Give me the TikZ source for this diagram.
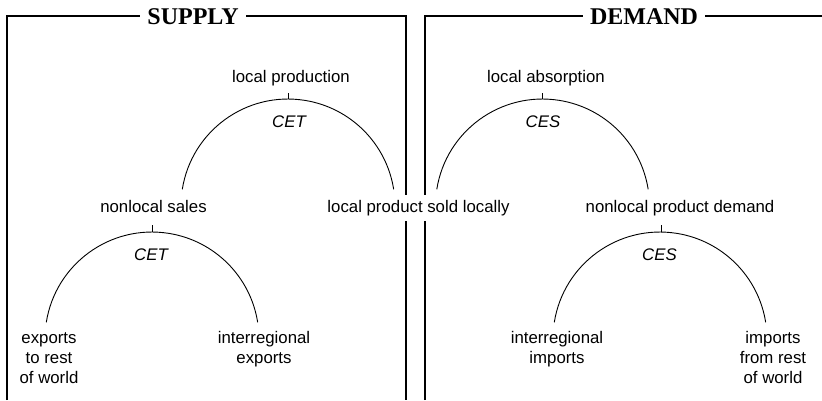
\documentclass[tikz,border=0pt]{standalone}
\usepackage{fontspec}
\setmainfont{Liberation Sans}
\newfontfamily\titlefont{Liberation Serif}
\begin{document}
\begin{tikzpicture}[x=1pt,y=1pt,
  frame/.style={line width=1.2pt},
  branch/.style={line width=0.9pt},
  lbl/.style={font=\fontsize{16.8}{19.8}\selectfont, inner sep=0pt, anchor=base, align=center},
  elas/.style={font=\fontsize{16.8}{19.8}\selectfont\itshape, inner sep=0pt, anchor=base},
  heading/.style={font=\titlefont\bfseries\fontsize{24}{28}\selectfont, fill=white,
                  inner xsep=7pt, inner ysep=2pt, anchor=base}]
\useasboundingbox (0,0) rectangle (822,400);

% panel frames, open at the bottom
\coordinate (sbl) at (7,0);
\coordinate (stl) at (7,384);
\coordinate (str) at (406,384);
\coordinate (sbr) at (406,0);
\coordinate (dbl) at (425,0);
\coordinate (dtl) at (425,384);
\coordinate (dtr) at (822,384);
\draw[frame] (sbl) -- (stl) -- (str) -- (sbr);
\draw[frame] (dbl) -- (dtl) -- (dtr);

% panel headings
\node[heading] (supply) at (193,375) {SUPPLY};
\node[heading] (demand) at (644,375) {DEMAND};

% ---------- supply side ----------
\node[lbl] (prod) at (291,317.5) {local production};
\node[elas] (cet1) at (289,273) {CET};
\coordinate (t1) at (288,301);
\coordinate (a1) at ({288-105.7},{194+16.7});
\draw[branch] (t1) -- ++(0,6);
\draw[branch] (a1) arc[start angle=171, end angle=9, radius=107];

\node[lbl] (nls) at (153.5,187.5) {nonlocal sales};
\node[elas] (cet2) at (151,140) {CET};
\coordinate (t2) at (152,168);
\coordinate (a2) at ({152-105.7},{61+16.7});
\draw[branch] (t2) -- ++(0,7);
\draw[branch] (a2) arc[start angle=171, end angle=9, radius=107];

% multi-line labels: the base anchor sits on the last line
\node[lbl] (exw) at (49,17) {exports\\to rest\\of world};
\node[lbl] (irx) at (264,37) {interregional\\exports};

% ---------- shared node ----------
\node[lbl, fill=white, inner xsep=2pt, inner ysep=5pt] (sold) at (418.5,187.5) {local product sold locally};

% ---------- demand side ----------
\node[lbl] (abs) at (546,317.5) {local absorption};
\node[elas] (ces1) at (543,273) {CES};
\coordinate (t3) at (542.5,301);
\coordinate (a3) at ({542.5-105.7},{194+16.7});
\draw[branch] (t3) -- ++(0,6);
\draw[branch] (a3) arc[start angle=171, end angle=9, radius=107];

\node[lbl] (npd) at (680,187.5) {nonlocal product demand};
\node[elas] (ces2) at (659.5,140) {CES};
\coordinate (t4) at (661,168);
\coordinate (a4) at ({660-105.7},{61+16.7});
\draw[branch] (t4) -- ++(0,7);
\draw[branch] (a4) arc[start angle=171, end angle=9, radius=107];

\node[lbl] (iri) at (557,37) {interregional\\imports};
\node[lbl] (imw) at (773,17) {imports\\from rest\\of world};
\end{tikzpicture}
\end{document}
